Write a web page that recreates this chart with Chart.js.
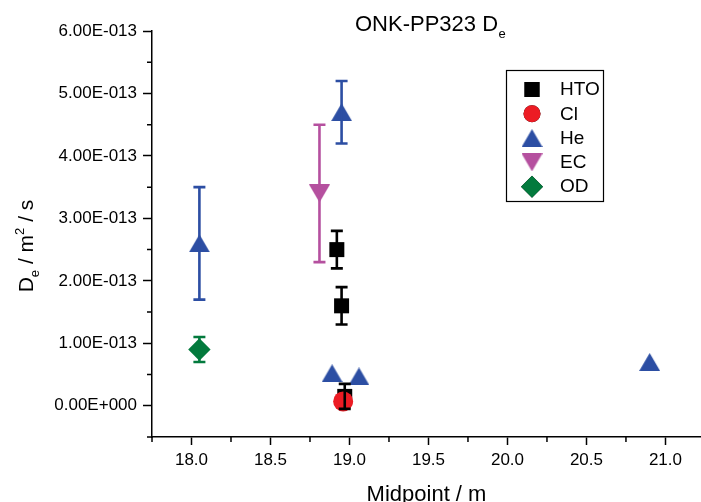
<!DOCTYPE html>
<html>
<head>
<meta charset="utf-8">
<script src="https://cdn.jsdelivr.net/npm/chart.js@4"></script>
<style>
  html, body { margin: 0; padding: 0; background: #fff; }
  #chart { display: block; }
</style>
</head>
<body>
<canvas id="chart" width="701" height="502"></canvas>
<script>
// --- data (midpoint in m, De in m2/s) ---
const htoX = [18.92, 18.95, 18.97];
const htoY = [2.5e-13, 1.6e-13, 0.15e-13];
const htoErr = [0.3e-13, 0.3e-13, 0.2e-13];

const clX = [18.96];
const clY = [0.07e-13];

const heX = [18.05, 18.95, 18.89, 19.06, 20.90];
const heY = [2.6e-13, 4.7e-13, 0.52e-13, 0.47e-13, 0.70e-13];
const heErr = [0.9e-13, 0.5e-13, 0, 0, 0];

const ecX = [18.81];
const ecY = [3.4e-13];
const ecErr = [1.1e-13];

const odX = [18.05];
const odY = [0.9e-13];
const odErr = [0.2e-13];

const seriesNames = ['HTO', 'Cl', 'He', 'EC', 'OD'];
const xTitle = 'Midpoint / m';
const chartTitle = 'ONK-PP323 D';

const FONT = "'Liberation Sans', Arial, sans-serif";
const colors = { hto: '#000000', cl: '#ec1c24', he: '#2c4ea3', ec: '#b5509f', od: '#037a3d' };

// triangles drawn centred on their box, like the original plot
function triangleImage(color, down) {
  const w = 21, h = 18;
  const c = document.createElement('canvas');
  c.width = w; c.height = h;
  const g = c.getContext('2d');
  g.fillStyle = color;
  g.beginPath();
  if (down) { g.moveTo(0, 0); g.lineTo(w, 0); g.lineTo(w / 2, h); }
  else { g.moveTo(w / 2, 0); g.lineTo(w, h); g.lineTo(0, h); }
  g.closePath();
  g.fill();
  return c;
}
const triUp = triangleImage(colors.he, false);
const triDown = triangleImage(colors.ec, true);

function pts(xs, ys) { return xs.map((x, i) => ({ x: x, y: ys[i] })); }

function sci(v) {
  if (Math.abs(v) < 1e-20) return '0.00E+000';
  let e = Math.floor(Math.log10(Math.abs(v)));
  let m = v / Math.pow(10, e);
  if (Math.abs(m) >= 9.995) { m /= 10; e += 1; }
  return m.toFixed(2) + 'E' + (e < 0 ? '-' : '+') + String(Math.abs(e)).padStart(3, '0');
}

// --- error bars with caps ---
const errorBars = {
  id: 'errorBars',
  afterDatasetsDraw(chart) {
    const ctx = chart.ctx, xs = chart.scales.x, ys = chart.scales.y;
    chart.data.datasets.forEach(ds => {
      if (!ds.errors) return;
      ctx.save();
      ctx.strokeStyle = ds.borderColor;
      ctx.lineWidth = 2.6;
      ds.data.forEach((p, i) => {
        const err = ds.errors[i];
        if (!err) return;
        const px = xs.getPixelForValue(p.x);
        const top = ys.getPixelForValue(p.y + err);
        const bot = ys.getPixelForValue(p.y - err);
        ctx.beginPath();
        ctx.moveTo(px, top); ctx.lineTo(px, bot);
        ctx.moveTo(px - 6, top); ctx.lineTo(px + 6, top);
        ctx.moveTo(px - 6, bot); ctx.lineTo(px + 6, bot);
        ctx.stroke();
      });
      ctx.restore();
    });
  }
};

// --- minor ticks, legend box and texts with sub/superscripts ---
const decorations = {
  id: 'decorations',
  afterDraw(chart) {
    const ctx = chart.ctx, xs = chart.scales.x, ys = chart.scales.y, area = chart.chartArea;
    ctx.save();
    ctx.strokeStyle = '#000';
    ctx.lineWidth = 1.5;
    ctx.beginPath();
    for (let k = 0; k < 8; k++) {
      const v = 17.75 + k * 0.5;
      if (v > xs.max) break;
      const px = xs.getPixelForValue(v);
      ctx.moveTo(px, area.bottom); ctx.lineTo(px, area.bottom + 5);
    }
    for (let k = 0; k < 7; k++) {
      const v = (k - 0.5) * 1e-13;
      const py = ys.getPixelForValue(v);
      ctx.moveTo(area.left, py); ctx.lineTo(area.left - 5, py);
    }
    ctx.stroke();

    // legend
    ctx.lineWidth = 1.2;
    ctx.strokeRect(506.5, 70.5, 97, 131);
    ctx.fillStyle = '#000';
    ctx.font = '19px ' + FONT;
    ctx.textBaseline = 'middle';
    ctx.textAlign = 'left';
    chart.data.datasets.forEach((ds, i) => {
      const y = 89.5 + i * 24.3;
      Chart.helpers.drawPoint(ctx, {
        pointStyle: ds.pointStyle,
        radius: ds.legendRadius,
        rotation: 0,
        borderWidth: 0
      }, 532, y);
      if (typeof ds.pointStyle === 'string') {
        ctx.fillStyle = ds.backgroundColor;
        ctx.fill();
      }
      ctx.fillStyle = '#000';
      ctx.fillText(ds.label, 560, y + 0.5);
    });

    // title
    const mid = (area.left + area.right) / 2;
    ctx.textBaseline = 'alphabetic';
    ctx.font = '22px ' + FONT;
    const tw = ctx.measureText(chartTitle).width;
    ctx.fillText(chartTitle, mid - tw / 2, 30.5);
    ctx.font = '13px ' + FONT;
    ctx.fillText('e', mid + tw / 2 + 0.5, 38);

    // x axis title
    ctx.font = '22px ' + FONT;
    ctx.textAlign = 'center';
    ctx.fillText(xTitle, mid, 501);

    // y axis title: D_e / m^2 / s
    ctx.textAlign = 'left';
    const parts = [
      { t: 'D', size: 21, dy: 0 },
      { t: 'e', size: 13, dy: 6 },
      { t: ' / m', size: 21, dy: 0 },
      { t: '2', size: 13, dy: -9 },
      { t: ' / s', size: 21, dy: 0 }
    ];
    let total = 0;
    parts.forEach(p => { ctx.font = p.size + 'px ' + FONT; p.w = ctx.measureText(p.t).width; total += p.w; });
    ctx.translate(33, 246);
    ctx.rotate(-Math.PI / 2);
    let x = -total / 2;
    parts.forEach(p => {
      ctx.font = p.size + 'px ' + FONT;
      ctx.fillText(p.t, x, p.dy);
      x += p.w;
    });
    ctx.restore();
  }
};

const tickFont = { family: FONT, size: 17 };

new Chart(document.getElementById('chart'), {
  type: 'scatter',
  data: {
    datasets: [
      { label: seriesNames[0], data: pts(htoX, htoY), errors: htoErr, pointStyle: 'rect',
        pointRadius: 10.6, legendRadius: 10.6, backgroundColor: colors.hto, borderColor: colors.hto, borderWidth: 0 },
      { label: seriesNames[1], data: pts(clX, clY), pointStyle: 'circle', order: -1,
        pointRadius: 10, legendRadius: 8.5, backgroundColor: colors.cl, borderColor: colors.cl, borderWidth: 0 },
      { label: seriesNames[2], data: pts(heX, heY), errors: heErr, pointStyle: triUp,
        pointRadius: 11, legendRadius: 11, backgroundColor: colors.he, borderColor: colors.he, borderWidth: 0 },
      { label: seriesNames[3], data: pts(ecX, ecY), errors: ecErr, pointStyle: triDown,
        pointRadius: 11, legendRadius: 11, backgroundColor: colors.ec, borderColor: colors.ec, borderWidth: 0 },
      { label: seriesNames[4], data: pts(odX, odY), errors: odErr, pointStyle: 'rectRot',
        pointRadius: 11.2, legendRadius: 11, backgroundColor: colors.od, borderColor: colors.od, borderWidth: 0 }
    ]
  },
  options: {
    responsive: false,
    animation: false,
    layout: { autoPadding: false, padding: { top: 31, right: 0, left: 0, bottom: 0 } },
    plugins: { legend: { display: false }, tooltip: { enabled: false } },
    scales: {
      x: {
        type: 'linear', min: 17.75, max: 21.225,
        afterFit: s => { s.height = 65; s.paddingLeft = 0; s.paddingRight = 0; },
        border: { color: '#000', width: 1.5 },
        grid: { drawOnChartArea: false, color: '#000', tickLength: 8, tickWidth: 1.5 },
        ticks: { stepSize: 0.5, includeBounds: false, padding: 5, color: '#000', font: tickFont,
                 maxRotation: 0, autoSkip: false, callback: v => Number(v).toFixed(1) }
      },
      y: {
        type: 'linear', min: -0.5e-13, max: 6e-13,
        afterFit: s => { s.width = 152; s.paddingTop = 0; s.paddingBottom = 0; },
        border: { color: '#000', width: 1.5 },
        grid: { drawOnChartArea: false, color: '#000', tickLength: 9, tickWidth: 1.5 },
        ticks: { stepSize: 1e-13, includeBounds: false, padding: 6, color: '#000', font: tickFont,
                 autoSkip: false, callback: v => sci(v) }
      }
    }
  },
  plugins: [errorBars, decorations]
});
</script>
</body>
</html>
